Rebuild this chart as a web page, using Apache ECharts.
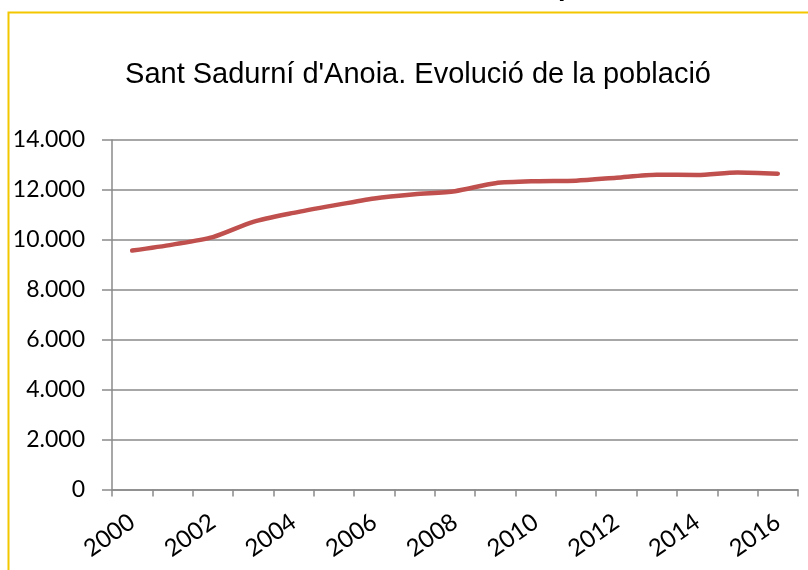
<!DOCTYPE html>
<html>
<head>
<meta charset="utf-8">
<script src="https://cdn.jsdelivr.net/npm/echarts@6/dist/echarts.min.js"></script>
<style>
html,body{margin:0;padding:0;background:#fff;}
#chart{width:808px;height:570px;}
</style>
</head>
<body>
<div id="chart"></div>
<script>
const titleText = "Sant Sadurní d'Anoia. Evolució de la població";
const years = ["2000","2001","2002","2003","2004","2005","2006","2007","2008","2009","2010","2011","2012","2013","2014","2015","2016"];
const population = [9570, 9810, 10110, 10720, 11080, 11380, 11660, 11830, 11950, 12270, 12350, 12370, 12490, 12610, 12600, 12700, 12650];
const yMin = 0, yMax = 14000, yStep = 2000;

const chart = echarts.init(document.getElementById('chart'), null, {renderer:'canvas'});
function fmt(v){ return String(v).replace(/\B(?=(\d{3})+(?!\d))/g, '.'); }
chart.setOption({
  animation:false,
  backgroundColor:'#ffffff',
  title:{
    text:titleText, left:413, textAlign:'center', top:55,
    textStyle:{fontFamily:'Liberation Sans, Arial', fontSize:29, fontWeight:'normal', color:'#000'}
  },
  graphic:[
    {type:'polyline', shape:{points:[[8.5,570],[8.5,12.5],[808,12.5]]}, style:{stroke:'#F2C700', lineWidth:2, fill:null}},
    {type:'text', left:558, top:-26, style:{text:'p', font:'bold 27px Liberation Sans', fill:'#000'}}
  ],
  grid:{left:112, right:10, top:140, bottom:80.5, containLabel:false},
  xAxis:{
    type:'category', data:years, boundaryGap:true,
    axisLine:{lineStyle:{color:'#8a8a8a', width:1.5}},
    axisTick:{show:true, length:7, interval:0, alignWithLabel:false, lineStyle:{color:'#8a8a8a', width:1.5}},
    axisLabel:{interval:1, rotate:35, margin:30, fontFamily:'Lato', fontSize:24, color:'#000'},
    splitLine:{show:false}
  },
  yAxis:{
    type:'value', min:yMin, max:yMax, interval:yStep,
    axisLine:{show:true, lineStyle:{color:'#8a8a8a', width:1.5}},
    axisTick:{show:true, length:10, lineStyle:{color:'#8a8a8a', width:1.5}},
    axisLabel:{margin:27, fontFamily:'Lato', fontSize:23, color:'#000', formatter:fmt},
    splitLine:{show:true, lineStyle:{color:'#8a8a8a', width:1.5}}
  },
  series:[{
    type:'line', data:population, smooth:0.25, showSymbol:false, symbol:'none',
    lineStyle:{color:'#C0504D', width:4.5, cap:'round'}
  }]
});
</script>
</body>
</html>
